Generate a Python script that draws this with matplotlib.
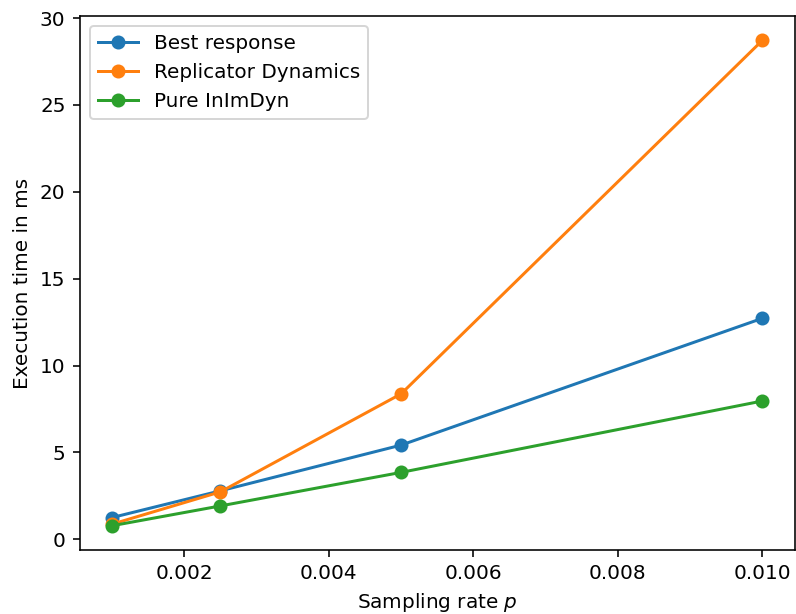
import matplotlib
matplotlib.use("Agg")
import matplotlib.pyplot as plt

p = [0.001, 0.0025, 0.005, 0.01]
best_response = [1.25, 2.79, 5.42, 12.72]
replicator = [0.87, 2.73, 8.37, 28.72]
pure_inimdyn = [0.78, 1.92, 3.85, 7.96]

DPI = 144
fig = plt.figure(figsize=(796 / DPI, 614 / DPI), dpi=DPI)
ax = fig.add_axes([79.5 / 796, 1 - 550 / 614, 715.5 / 796, 534 / 614])
ax.plot(p, best_response, marker="o", label="Best response")
ax.plot(p, replicator, marker="o", label="Replicator Dynamics")
ax.plot(p, pure_inimdyn, marker="o", label="Pure InImDyn")
ax.set_xlabel("Sampling rate $p$")
ax.set_ylabel("Execution time in ms")
ax.legend(loc="upper left")
fig.savefig("out.png", dpi=DPI)
